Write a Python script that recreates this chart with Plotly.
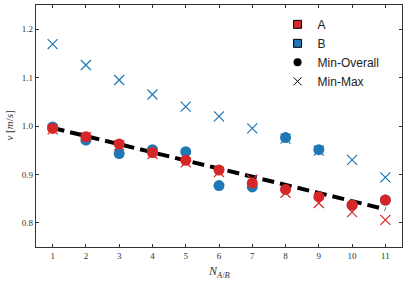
import plotly.graph_objects as go

N = [1, 2, 3, 4, 5, 6, 7, 8, 9, 10, 11]

A_min_overall = [0.995, 0.978, 0.963, 0.945, 0.929, 0.909, 0.882, 0.869, 0.854, 0.837, 0.847]
B_min_overall = [0.998, 0.971, 0.943, 0.951, 0.947, 0.877, 0.874, 0.976, 0.951, 0.837, 0.847]
A_min_max = [0.993, 0.977, 0.960, 0.942, 0.925, 0.905, 0.889, 0.862, 0.841, 0.822, 0.806]
B_min_max = [1.169, 1.126, 1.095, 1.065, 1.040, 1.020, 0.995, 0.974, 0.949, 0.930, 0.894]

fit_N = [1, 11]
fit_v = [0.996, 0.828]

y_ticks = [0.8, 0.9, 1.0, 1.1, 1.2]
y_ticklabels = ["0.8", "0.9", "1.0", "1.1", "1.2"]

RED = "#d62728"
BLUE = "#1f77b4"
SERIF = "Liberation Serif, DejaVu Serif, serif"
SANS = "Liberation Sans, Arial, sans-serif"

fig = go.Figure()

fig.add_trace(go.Scatter(x=fit_N, y=fit_v, mode="lines",
                         line=dict(color="black", width=4, dash="12px,6px"),
                         showlegend=False, hoverinfo="skip"))

fig.add_trace(go.Scatter(x=N, y=B_min_overall, mode="markers",
                         marker=dict(symbol="circle", size=11, color=BLUE),
                         showlegend=False))
fig.add_trace(go.Scatter(x=N, y=A_min_overall, mode="markers",
                         marker=dict(symbol="circle", size=11, color=RED),
                         showlegend=False))
fig.add_trace(go.Scatter(x=N, y=B_min_max, mode="markers",
                         marker=dict(symbol="x-thin", size=10, color=BLUE,
                                     line=dict(color=BLUE, width=1.2)),
                         showlegend=False))
fig.add_trace(go.Scatter(x=N, y=A_min_max, mode="markers",
                         marker=dict(symbol="x-thin", size=10, color=RED,
                                     line=dict(color=RED, width=1.2)),
                         showlegend=False))

# legend entries
fig.add_trace(go.Scatter(x=[None], y=[None], mode="markers", name="A",
                         marker=dict(symbol="square", size=8, color=RED,
                                     line=dict(color="black", width=1))))
fig.add_trace(go.Scatter(x=[None], y=[None], mode="markers", name="B",
                         marker=dict(symbol="square", size=8, color=BLUE,
                                     line=dict(color="black", width=1))))
fig.add_trace(go.Scatter(x=[None], y=[None], mode="markers", name="Min-Overall",
                         marker=dict(symbol="circle", size=8, color="black")))
fig.add_trace(go.Scatter(x=[None], y=[None], mode="markers", name="Min-Max",
                         marker=dict(symbol="x-thin", size=8, color="black",
                                     line=dict(color="black", width=1))))

axis_common = dict(showgrid=False, zeroline=False, showline=True, mirror="allticks",
                   linecolor="#333333", linewidth=1.2, ticks="inside", ticklen=3,
                   tickcolor="#333333", tickwidth=1, automargin=False,
                   tickfont=dict(family=SERIF, size=9, color="#333333"))

fig.update_xaxes(range=[0.5, 11.5], tickmode="array", tickvals=N, **axis_common)
fig.update_yaxes(range=[0.75, 1.25], tickmode="array",
                 tickvals=y_ticks, ticktext=y_ticklabels, **axis_common)

fig.add_annotation(text="<i>N</i><sub><i>A</i>/<i>B</i></sub>", xref="paper", yref="paper",
                   x=0.5, y=-0.06, xanchor="center", yanchor="top", showarrow=False,
                   font=dict(family=SERIF, size=12, color="#333333"))
fig.add_annotation(text="<i>v</i> [<i>m</i>/<i>s</i>]", xref="paper", yref="paper",
                   x=-0.075, y=0.5, xanchor="center", yanchor="middle", showarrow=False,
                   textangle=-90,
                   font=dict(family=SERIF, size=11, color="#333333"))

fig.update_layout(
    width=407, height=281,
    margin=dict(l=36, r=5, t=5, b=34),
    paper_bgcolor="white", plot_bgcolor="white",
    legend=dict(x=0.66, y=0.98, xanchor="left", yanchor="top",
                bgcolor="rgba(0,0,0,0)", borderwidth=0,
                font=dict(family=SANS, size=12, color="#222222"),
                itemwidth=30, tracegroupgap=0),
)

fig.write_html("out.html", config={"displayModeBar": False},
               post_script="document.body.style.margin='0';document.body.style.overflow='hidden';")
